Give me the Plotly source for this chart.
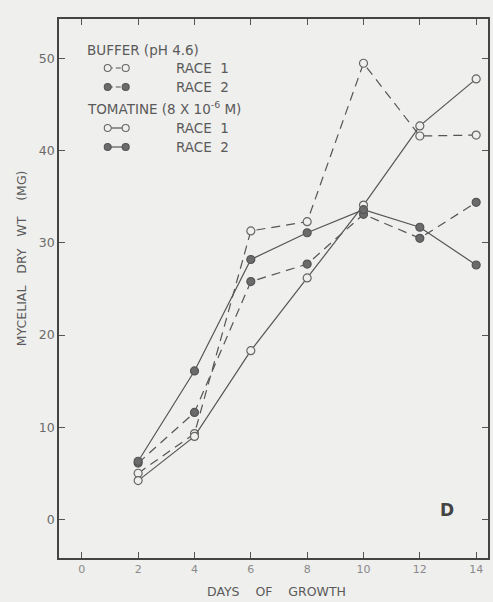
import plotly.graph_objects as go

days = [2, 4, 6, 8, 10, 12, 14]
buffer_race1 = [5.0, 9.3, 31.3, 32.3, 49.5, 41.6, 41.7]
buffer_race2 = [6.1, 11.6, 25.8, 27.7, 33.1, 30.5, 34.4]
tomatine_race1 = [4.2, 9.0, 18.3, 26.2, 34.1, 42.7, 47.8]
tomatine_race2 = [6.3, 16.1, 28.2, 31.1, 33.6, 31.7, 27.6]

x_ticks = [0, 2, 4, 6, 8, 10, 12, 14]
y_ticks = [0, 10, 20, 30, 40, 50]

W, H = 493, 602
ML, MR, MT, MB = 59, 3, 19, 44
PW, PH = W - ML - MR, H - MT - MB

BG = "#efefed"
LINE = "#555555"
OPEN_FILL = BG
DARK = "#6b6b6b"
TXT = "#5a5a5a"
FONT = "DejaVu Sans"
DASH = "9px,6px"

def px(x):
    return (x - ML) / PW

def py(y):
    return (H - MB - y) / PH

fig = go.Figure()

series = [
    (buffer_race1, DASH, False),
    (buffer_race2, DASH, True),
    (tomatine_race1, "solid", False),
    (tomatine_race2, "solid", True),
]
for vals, dash, filled in series:
    fig.add_trace(go.Scatter(
        x=days, y=vals, mode="lines+markers",
        line=dict(color=LINE, width=1.2, dash=dash),
        marker=dict(size=8, symbol="circle",
                    color=DARK if filled else OPEN_FILL,
                    line=dict(color="#555555" if filled else "#666666", width=1.2)),
        showlegend=False, hoverinfo="skip",
    ))

shapes = []
annotations = []

def legend_item(y, dash, filled, label):
    shapes.append(dict(type="line", xref="paper", yref="paper",
                       x0=px(108), x1=px(126), y0=py(y), y1=py(y),
                       line=dict(color=LINE, width=1.2, dash="5px,3px" if dash != "solid" else "solid")))
    for xx in (108, 126):
        shapes.append(dict(type="circle", xref="paper", yref="paper",
                           xsizemode="pixel", ysizemode="pixel",
                           xanchor=px(xx), yanchor=py(y),
                           x0=-3.5, x1=3.5, y0=-3.5, y1=3.5,
                           fillcolor=DARK if filled else OPEN_FILL,
                           line=dict(color="#555555" if filled else "#666666", width=1.1)))
    annotations.append(dict(text=label, xref="paper", yref="paper",
                            x=px(175), y=py(y), xanchor="left", yanchor="middle",
                            showarrow=False, font=dict(family=FONT, size=13.5, color=TXT)))

annotations.append(dict(text="BUFFER (pH 4.6)", xref="paper", yref="paper",
                        x=px(85), y=py(50), xanchor="left", yanchor="middle",
                        showarrow=False, font=dict(family=FONT, size=13.5, color=TXT)))
legend_item(68, DASH, False, "RACE\u00a0 1")
legend_item(87, DASH, True, "RACE\u00a0 2")
annotations.append(dict(text="TOMATINE (8 X 10<sup>-6</sup> M)", xref="paper", yref="paper",
                        x=px(85), y=py(108), xanchor="left", yanchor="middle",
                        showarrow=False, font=dict(family=FONT, size=13.5, color=TXT)))
legend_item(128, "solid", False, "RACE\u00a0 1")
legend_item(147, "solid", True, "RACE\u00a0 2")

annotations.append(dict(text="<b>D</b>", xref="paper", yref="paper",
                        x=px(449), y=py(510), xanchor="center", yanchor="middle",
                        showarrow=False, font=dict(family=FONT, size=17, color="#444444")))

annotations.append(dict(text="MYCELIAL\u00a0\u00a0 DRY\u00a0\u00a0 WT\u00a0\u00a0\u00a0 (MG)",
                        xref="paper", yref="paper", x=px(21), y=py(258),
                        xanchor="center", yanchor="middle", textangle=-90,
                        showarrow=False, font=dict(family=FONT, size=12.5, color=TXT)))
annotations.append(dict(text="DAYS\u00a0\u00a0\u00a0 OF\u00a0\u00a0\u00a0 GROWTH",
                        xref="paper", yref="paper", x=px(278), y=py(591),
                        xanchor="center", yanchor="middle",
                        showarrow=False, font=dict(family=FONT, size=12.5, color=TXT)))

fig.update_layout(
    width=W, height=H,
    margin=dict(l=ML, r=MR, t=MT, b=MB, pad=0),
    paper_bgcolor=BG, plot_bgcolor=BG,
    shapes=shapes, annotations=annotations,
    showlegend=False,
)
fig.update_xaxes(
    range=[-0.81, 14.42], tickvals=x_ticks, ticktext=[str(v) for v in x_ticks],
    showgrid=False, zeroline=False,
    showline=True, linecolor="#444444", linewidth=1.5, mirror="ticks",
    ticks="inside", ticklen=6, tickcolor="#555555", tickwidth=1.2,
    tickfont=dict(family=FONT, size=11, color="#8a8a8a"),
)
fig.update_yaxes(
    range=[-4.2, 54.3], tickvals=y_ticks, ticktext=[str(v) for v in y_ticks],
    showgrid=False, zeroline=False,
    showline=True, linecolor="#444444", linewidth=1.5, mirror="ticks",
    ticks="inside", ticklen=6, tickcolor="#555555", tickwidth=1.2,
    tickfont=dict(family=FONT, size=12.5, color="#6a6a6a"),
)

fig.write_html("out.html")
